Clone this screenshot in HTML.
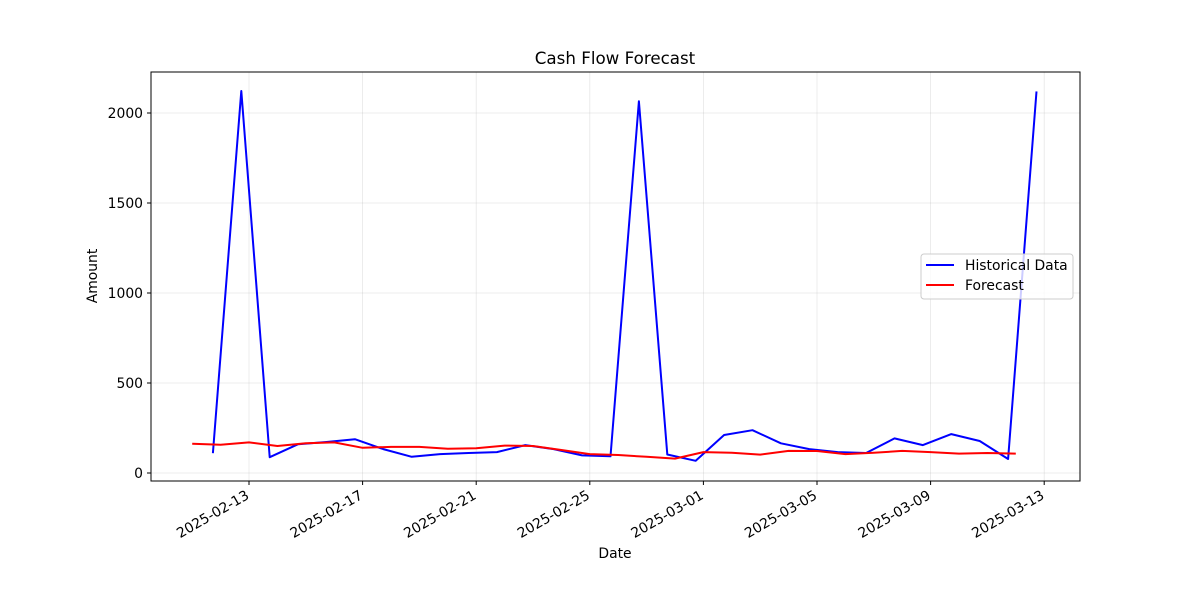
<!DOCTYPE html>
<html><head><meta charset="utf-8"><style>
body{margin:0;background:#fff}
text{font-family:"DejaVu Sans","Liberation Sans",sans-serif}
</style></head><body>
<svg id="chart" width="1200" height="600" xmlns="http://www.w3.org/2000/svg">
<rect width="1200" height="600" fill="#fff"/>
<g id="grid"></g>
<g id="ticks"></g>
<g id="series"></g>
<rect x="151" y="72" width="929" height="409" fill="none" stroke="#000" stroke-width="1"/>
<text x="615" y="64" font-size="16.7" text-anchor="middle">Cash Flow Forecast</text>
<text x="615" y="558" font-size="13.9" text-anchor="middle">Date</text>
<text transform="translate(97,276) rotate(-90)" font-size="13.9" text-anchor="middle">Amount</text>
<g>
<rect x="921" y="254" width="152" height="45" rx="3" fill="#fff" fill-opacity="0.8" stroke="#ccc"/>
<line x1="926" y1="265" x2="954" y2="265" stroke="#0000ff" stroke-width="2"/>
<text x="965" y="270" font-size="13.9">Historical Data</text>
<line x1="926" y1="285" x2="954" y2="285" stroke="#ff0000" stroke-width="2"/>
<text x="965" y="290" font-size="13.9">Forecast</text>
</g>
</svg>
<script>
const histStart = -1.27; // day offset from 2025-02-13
const histValues = [110,2122,88,160,172,188,133,90,105,111,116,155,133,98,93,2065,103,68,211,238,165,133,116,111,192,155,216,178,78,2120];
const fcStart = -2.0;
const fcValues = [162,157,170,150,165,170,140,145,145,135,137,152,150,128,105,100,90,80,116,112,102,123,122,105,112,123,116,108,111,108];
const yTicks = [0,500,1000,1500,2000];
const xTickLabels = ["2025-02-13","2025-02-17","2025-02-21","2025-02-25","2025-03-01","2025-03-05","2025-03-09","2025-03-13"];
const xTickDays = [0,4,8,12,16,20,24,28];
const NS="http://www.w3.org/2000/svg";
const X=d=>249+d*28.4, Y=v=>473-v*0.18;
function mk(t,a,p){const e=document.createElementNS(NS,t);for(const k in a)e.setAttribute(k,a[k]);p.appendChild(e);return e;}
const grid=document.getElementById('grid'),ticks=document.getElementById('ticks'),series=document.getElementById('series');
yTicks.forEach(v=>{
 const g=mk('line',{x1:151,x2:1080,y1:Y(v),y2:Y(v),stroke:'#b0b0b0','stroke-opacity':0.3,'stroke-width':0.8},grid);
 
 mk('line',{x1:147,x2:151,y1:Y(v),y2:Y(v),stroke:'#000'},ticks);
 const t=mk('text',{x:143,y:Y(v)+5,'font-size':13.9,'text-anchor':'end'},ticks);t.textContent=v;
 
});
xTickDays.forEach((d,i)=>{
 const x=X(d);
 const g=mk('line',{x1:x,x2:x,y1:72,y2:481,stroke:'#b0b0b0','stroke-opacity':0.3,'stroke-width':0.8},grid);
 
 mk('line',{x1:x,x2:x,y1:481,y2:485,stroke:'#000'},ticks);
 const t=mk('text',{transform:`translate(${x+1},${498}) rotate(-30)`,'font-size':13.9,'text-anchor':'end'},ticks);t.textContent=xTickLabels[i];
 
});
function line(start,vals,color,name){
 const pts=vals.map((v,i)=>X(start+i).toFixed(1)+','+Y(v).toFixed(1)).join(' ');
 const p=mk('polyline',{points:pts,fill:'none',stroke:color,'stroke-width':2,'stroke-linejoin':'round'},series);
 
}
line(histStart,histValues,'#0000ff','historical-line');
line(fcStart,fcValues,'#ff0000','forecast-line');
</script>
</body></html>
